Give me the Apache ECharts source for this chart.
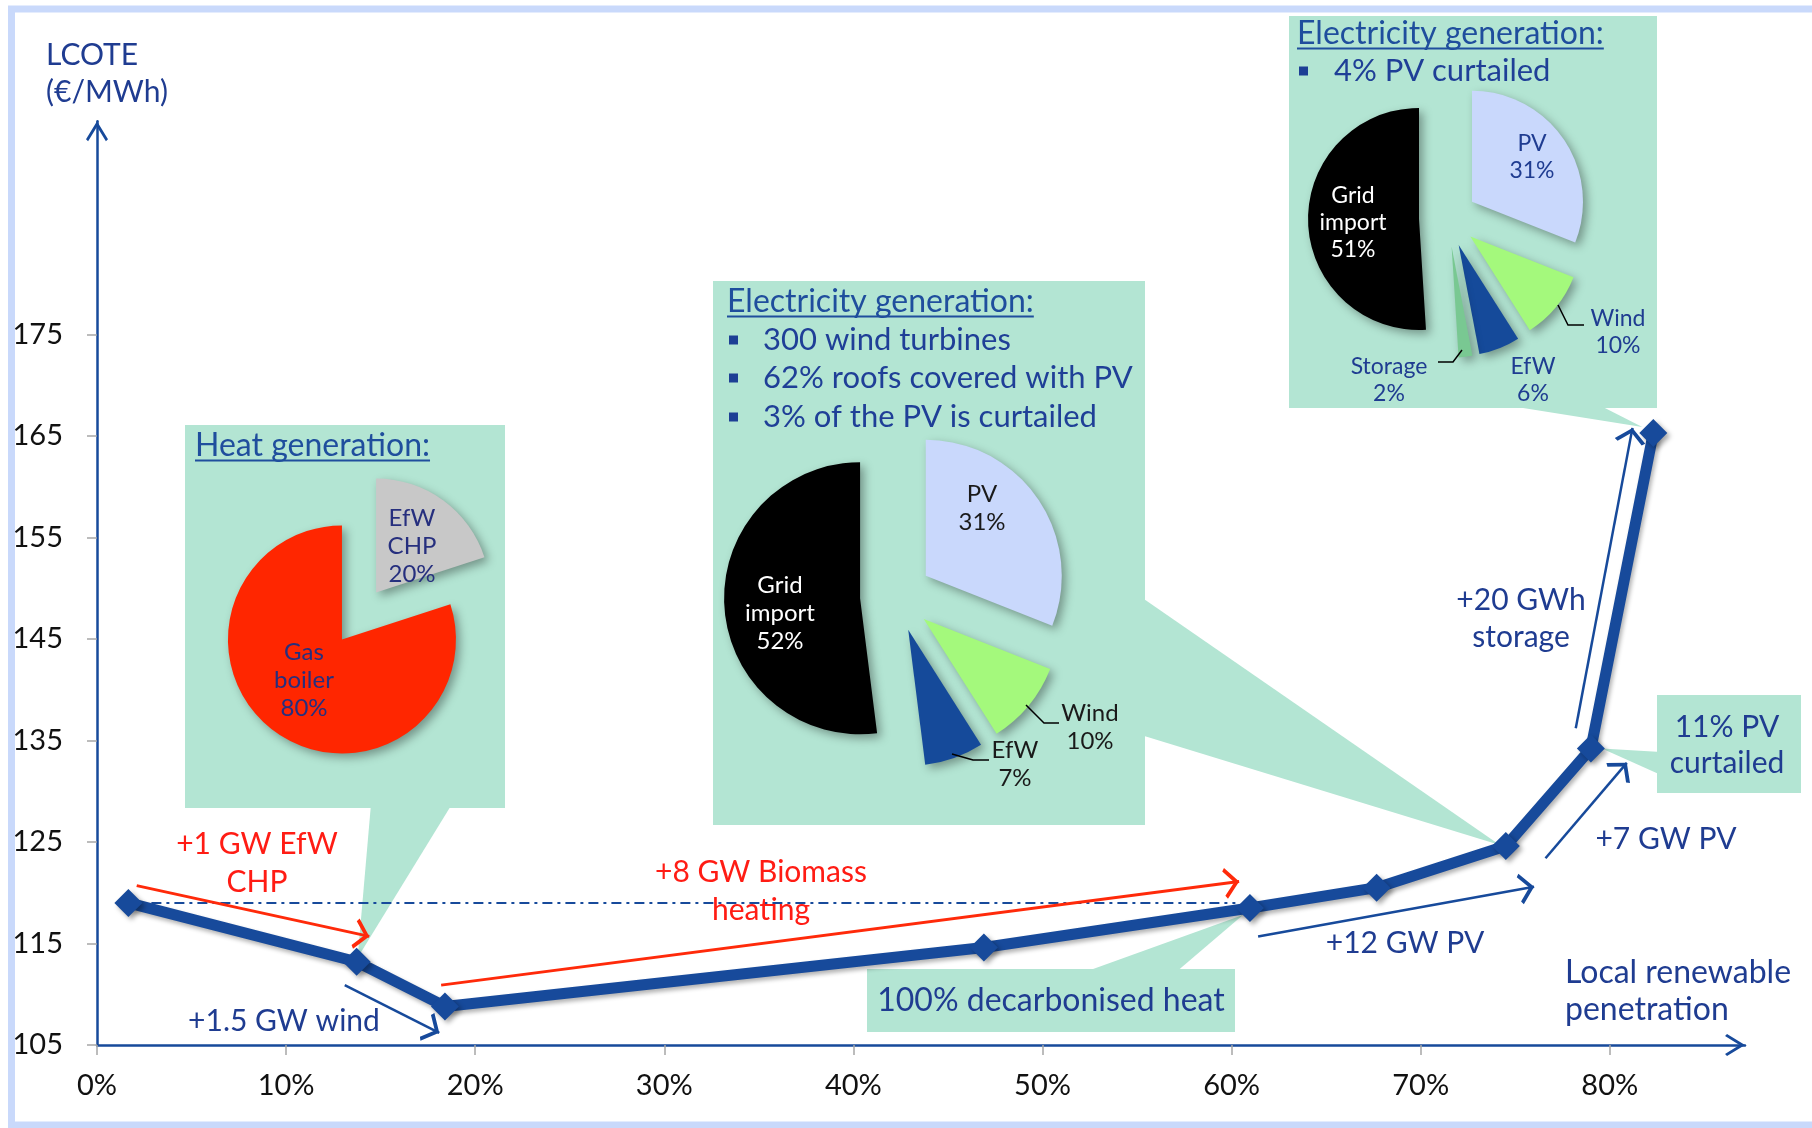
<!DOCTYPE html>
<html>
<head>
<meta charset="utf-8">
<script src="https://cdn.jsdelivr.net/npm/echarts@6/dist/echarts.min.js"></script>
<style>
  html, body { margin: 0; padding: 0; background: #fff; }
  #chart { width: 1812px; height: 1128px; }
</style>
</head>
<body>
<div id="chart"></div>
<script>
// ---- Data -------------------------------------------------------------
// LCOTE pathway: local renewable penetration (%) against LCOTE (€/MWh)
const penetration = [1.66, 13.73, 18.4, 46.9, 60.97, 67.67, 74.5, 79.0, 82.3];
const lcote       = [119.0, 113.2, 108.8, 114.6, 118.5, 120.5, 124.6, 134.2, 165.3];

// Tick values of the two axes
const xTickValues = [0, 10, 20, 30, 40, 50, 60, 70, 80];
const yTickValues = [105, 115, 125, 135, 145, 155, 165, 175];

// Reference level (starting LCOTE) drawn as a dash-dot line up to this penetration
const baselineEnd = 60.2;

// Step arrows [[x0, y0], [x1, y1]] in axis units
const redArrows = [
  [[2.1, 120.7], [14.4, 115.7]],    // +1 GW EfW CHP
  [[18.2, 110.9], [60.4, 121.1]]    // +8 GW Biomass heating
];
const blueArrows = [
  [[13.1, 110.9], [18.1, 106.2]],   // +1.5 GW wind
  [[61.4, 115.7], [76.0, 120.6]],   // +12 GW PV
  [[76.6, 123.4], [80.9, 132.8]],   // +7 GW PV
  [[78.2, 136.2], [81.2, 165.8]]    // +20 GWh storage
];

// Generation mixes (%)
const heatNames   = ['EfW CHP', 'Gas boiler'];
const heatShares  = [20, 80];
const elecNamesA  = ['PV', 'Wind', 'EfW', 'Grid import'];
const elecSharesA = [31, 10, 7, 52];
const elecNamesB  = ['PV', 'Wind', 'EfW', 'Storage', 'Grid import'];
const elecSharesB = [31, 10, 6, 2, 51];

// ---- Styling ----------------------------------------------------------
const BLUE  = '#174a9b';
const NAVY  = '#1f3c91';
const TITLE = '#1f4e9d';
const MINT  = '#b3e5d3';
const RED   = '#ff2a0a';
const RED_TEXT = '#ff1c14';
const FONT  = 'Lato, "Open Sans", sans-serif';

const sliceColors = {
  'EfW CHP': '#c8c8c8', 'Gas boiler': '#ff2600',
  'PV': '#c9d8fc', 'Wind': '#a4f97c', 'EfW': '#154a9a',
  'Storage': '#79c892', 'Grid import': '#000000'
};

// open chevron heads, tip at the centre of the symbol box
const axisHead  = 'path://M11,20 L22,38 L19.9,40 L11,25.5 L2.1,40 L0,38 Z M11,0 L11.01,0 Z';
const arrowHead = 'path://M10,15 L20,27 L17.9,29 L10,19.5 L2.1,29 L0,27 Z M10,1 L10.01,1 Z';

// plot geometry (pixels)
const OX = 97, OY = 1045, PX_X = 18.91, PX_Y = 10.15;
const X_END = 87.15, Y_END = 196;
const W = 1812, H = 1128;

// exploded pies; slice labels are placed by hand next to each slice
const pies = [
  { center: [359, 616], r: 114, offset: 29, fontSize: 24, lineHeight: 28,
    names: heatNames, values: heatShares,
    labelColors: ['#262f7e', '#262f7e'],
    labelPos: [[412, 546], [304, 680]] },
  { center: [896, 596], r: 136, offset: 36, fontSize: 24, lineHeight: 28,
    names: elecNamesA, values: elecSharesA,
    labelColors: ['#1a1a1a', '#1a1a1a', '#1a1a1a', '#ffffff'],
    labelPos: [[982, 508], [1090, 727], [1015, 764], [780, 613]] },
  { center: [1448, 218], r: 111, offset: 29, fontSize: 23, lineHeight: 27,
    names: elecNamesB, values: elecSharesB,
    labelColors: [NAVY, NAVY, NAVY, NAVY, '#ffffff'],
    labelPos: [[1532, 157], [1618, 332], [1533, 380], [1389, 380], [1353, 223]] }
];

function pieSeries(cfg) {
  return {
    type: 'pie',
    center: cfg.center,
    radius: [0, cfg.r],
    startAngle: 90,
    clockwise: true,
    selectedMode: 'multiple',
    selectedOffset: cfg.offset,
    avoidLabelOverlap: false,
    silent: true,
    z: 3,
    itemStyle: { shadowBlur: 10, shadowOffsetX: 4, shadowOffsetY: 4, shadowColor: 'rgba(0,0,0,0.35)' },
    label: { show: false },
    labelLine: { show: false },
    emphasis: { disabled: true },
    data: cfg.names.map((n, i) => ({
      name: n,
      value: cfg.values[i],
      selected: true,
      itemStyle: { color: sliceColors[n] }
    }))
  };
}

const option = {
  animation: false,
  backgroundColor: '#ffffff',
  grid: [
    { left: OX, right: W - (OX + X_END * PX_X), top: OY - (Y_END - 105) * PX_Y, bottom: H - OY,
      containLabel: false, outerBoundsMode: 'none' },
    { left: OX, right: W - (OX + 80 * PX_X), top: OY - 70 * PX_Y, bottom: H - OY,
      containLabel: false, outerBoundsMode: 'none' }
  ],
  xAxis: [
    { gridIndex: 0, type: 'value', min: 0, max: X_END,
      axisLine: { show: true, symbol: ['none', axisHead], symbolSize: [22, 40],
                  lineStyle: { color: BLUE, width: 2.5 } },
      axisTick: { show: false }, axisLabel: { show: false }, splitLine: { show: false } },
    { gridIndex: 1, type: 'value', min: xTickValues[0], max: xTickValues[xTickValues.length - 1],
      interval: xTickValues[1] - xTickValues[0],
      axisLine: { show: false },
      axisTick: { show: true, length: 10, lineStyle: { color: '#a6a6a6', width: 1.5 } },
      axisLabel: { formatter: '{value}%', fontFamily: FONT, fontSize: 29, color: '#111', margin: 26 },
      splitLine: { show: false } }
  ],
  yAxis: [
    { gridIndex: 0, type: 'value', min: 105, max: Y_END,
      axisLine: { show: true, symbol: ['none', axisHead], symbolSize: [22, 40],
                  lineStyle: { color: BLUE, width: 2.5 } },
      axisTick: { show: false }, axisLabel: { show: false }, splitLine: { show: false } },
    { gridIndex: 1, type: 'value', min: yTickValues[0], max: yTickValues[yTickValues.length - 1],
      interval: yTickValues[1] - yTickValues[0],
      axisLine: { show: false },
      axisTick: { show: true, length: 10, lineStyle: { color: '#a6a6a6', width: 1.5 } },
      axisLabel: { fontFamily: FONT, fontSize: 29, color: '#111', margin: 34 },
      splitLine: { show: false } }
  ],
  series: [
    { type: 'line', id: 'baseline', xAxisIndex: 0, yAxisIndex: 0, silent: true, z: 3,
      symbol: 'none',
      data: [[penetration[0], lcote[0]], [baselineEnd, lcote[0]]],
      lineStyle: { color: BLUE, width: 2, type: [10, 5, 3, 5] } },
    { type: 'line', id: 'lcote', xAxisIndex: 0, yAxisIndex: 0, z: 5,
      symbol: 'diamond', symbolSize: 28, showAllSymbol: true,
      data: penetration.map((x, i) => [x, lcote[i]]),
      lineStyle: { color: BLUE, width: 11, shadowBlur: 4, shadowOffsetX: 2, shadowOffsetY: 3,
                   shadowColor: 'rgba(0,0,0,0.3)' },
      itemStyle: { color: BLUE, shadowBlur: 5, shadowOffsetX: 3, shadowOffsetY: 3,
                   shadowColor: 'rgba(0,0,0,0.35)' } },
    { type: 'lines', coordinateSystem: 'cartesian2d', xAxisIndex: 0, yAxisIndex: 0, z: 4,
      symbol: ['none', arrowHead], symbolSize: [22, 31],
      lineStyle: { color: RED, width: 3, opacity: 1, curveness: 0 },
      data: redArrows.map(c => ({ coords: c })) },
    { type: 'lines', coordinateSystem: 'cartesian2d', xAxisIndex: 0, yAxisIndex: 0, z: 4,
      symbol: ['none', arrowHead], symbolSize: [22, 31],
      lineStyle: { color: BLUE, width: 2.5, opacity: 1, curveness: 0 },
      data: blueArrows.map(c => ({ coords: c })) }
  ].concat(pies.map(pieSeries))
};

const chart = echarts.init(document.getElementById('chart'));
chart.setOption(option);

// ---- Callouts, titles and annotations -----------------------------------
const toPx = i => chart.convertToPixel({ seriesId: 'lcote' }, [penetration[i], lcote[i]]);

const measure = (s, font) => {
  const c = document.createElement('canvas').getContext('2d');
  c.font = font;
  return c.measureText(s).width;
};

// boxes [x, y, w, h], wedge base points, anchored LCOTE point, tip nudge
const callouts = [
  { box: [185, 425, 320, 383],  base: [[371, 804], [452, 804]],   point: 1, nudge: [1, -4] },
  { box: [713, 281, 432, 544],  base: [[1141, 597], [1141, 735]], point: 6, nudge: [-6, -1] },
  { box: [1289, 16, 368, 392],  base: [[1498, 404], [1597, 404]], point: 8, nudge: [-11, -6] },
  { box: [1657, 695, 144, 98],  base: [[1661, 752], [1661, 775]], point: 7, nudge: [11, 0] },
  { box: [867, 969, 368, 63],   base: [[1082, 973], [1175, 973]], point: 4, nudge: [-7, 7] }
];

// pie label leader lines (from slice edge to label)
const leaders = [
  [[1026, 705], [1044, 723], [1059, 723]],   // Wind 10 %
  [[952, 754], [973, 760], [989, 760]],      // EfW 7 %
  [[1558, 305], [1568, 325], [1584, 325]],   // Wind 10 %
  [[1462, 350], [1453, 362], [1438, 362]]    // Storage 2 %
];

const elements = [];
// outer frame
elements.push({ type: 'rect', z: 0, silent: true,
  shape: { x: 11.5, y: 9, width: 1840, height: 1116 },
  style: { fill: 'none', stroke: '#c9d9fb', lineWidth: 7 } });

callouts.forEach(c => {
  const p = toPx(c.point);
  elements.push({ type: 'rect', z: 0, silent: true,
    shape: { x: c.box[0], y: c.box[1], width: c.box[2], height: c.box[3] },
    style: { fill: MINT } });
  elements.push({ type: 'polygon', z: 0, silent: true,
    shape: { points: [c.base[0], c.base[1], [p[0] + c.nudge[0], p[1] + c.nudge[1]]] },
    style: { fill: MINT } });
});

leaders.forEach(pts => {
  elements.push({ type: 'polyline', z: 100, silent: true,
    shape: { points: pts }, style: { stroke: '#000', lineWidth: 1.5, fill: null } });
});

function text(str, x, y, o) {
  elements.push({ type: 'text', z: 100, silent: true, x: x, y: y,
    style: Object.assign({ text: str, fontFamily: FONT, fontSize: 30, fill: NAVY,
      align: 'center', verticalAlign: 'middle' }, o || {}) });
}
function title(str, x, baseline, size) {
  const font = size + 'px Lato';
  text(str, x, baseline - size * 0.36, { align: 'left', fontSize: size, fill: TITLE });
  const w = measure(str, font);
  elements.push({ type: 'line', z: 100, silent: true,
    shape: { x1: x, y1: baseline + 3.5, x2: x + w, y2: baseline + 3.5 },
    style: { stroke: TITLE, lineWidth: 2 } });
}
function bullet(str, bx, tx, y, size) {
  elements.push({ type: 'rect', z: 100, silent: true,
    shape: { x: bx, y: y - 4.5, width: 9, height: 9 }, style: { fill: '#1d3f95' } });
  text(str, tx, y, { align: 'left', fontSize: size, fill: '#1f3f97' });
}

// slice labels: name and share of each slice
pies.forEach(cfg => {
  cfg.names.forEach((n, i) => {
    text(n.replace(' ', '\n') + '\n' + cfg.values[i] + '%', cfg.labelPos[i][0], cfg.labelPos[i][1],
      { fontSize: cfg.fontSize, lineHeight: cfg.lineHeight, fill: cfg.labelColors[i] });
  });
});

// box contents
title('Heat generation:', 195, 457, 32);
title('Electricity generation:', 727, 313, 32);
bullet('300 wind turbines', 729, 763, 340, 31);
bullet('62% roofs covered with PV', 729, 763, 378, 31);
bullet('3% of the PV is curtailed', 729, 763, 417, 31);
title('Electricity generation:', 1297, 45, 32);
bullet('4% PV curtailed', 1299, 1334, 71, 31);
text('11% PV\ncurtailed', 1727, 745, { lineHeight: 36, fontSize: 30 });
text('100% decarbonised heat', 1051, 1001, { fontSize: 32 });

// axis titles
text('LCOTE\n(€/MWh)', 46, 74, { align: 'left', lineHeight: 37 });
text('Local renewable\npenetration', 1565, 991, { align: 'left', lineHeight: 37, fontSize: 32 });

// step annotations
text('+1 GW EfW\nCHP', 257, 863, { fill: RED_TEXT, lineHeight: 38 });
text('+8 GW Biomass\nheating', 761, 891, { fill: RED_TEXT, lineHeight: 38 });
text('+1.5 GW wind', 284, 1021);
text('+12 GW PV', 1405, 943);
text('+7 GW PV', 1666, 839);
text('+20 GWh\nstorage', 1521, 619, { lineHeight: 37 });

chart.setOption({ graphic: { elements: elements } });
</script>
</body>
</html>
